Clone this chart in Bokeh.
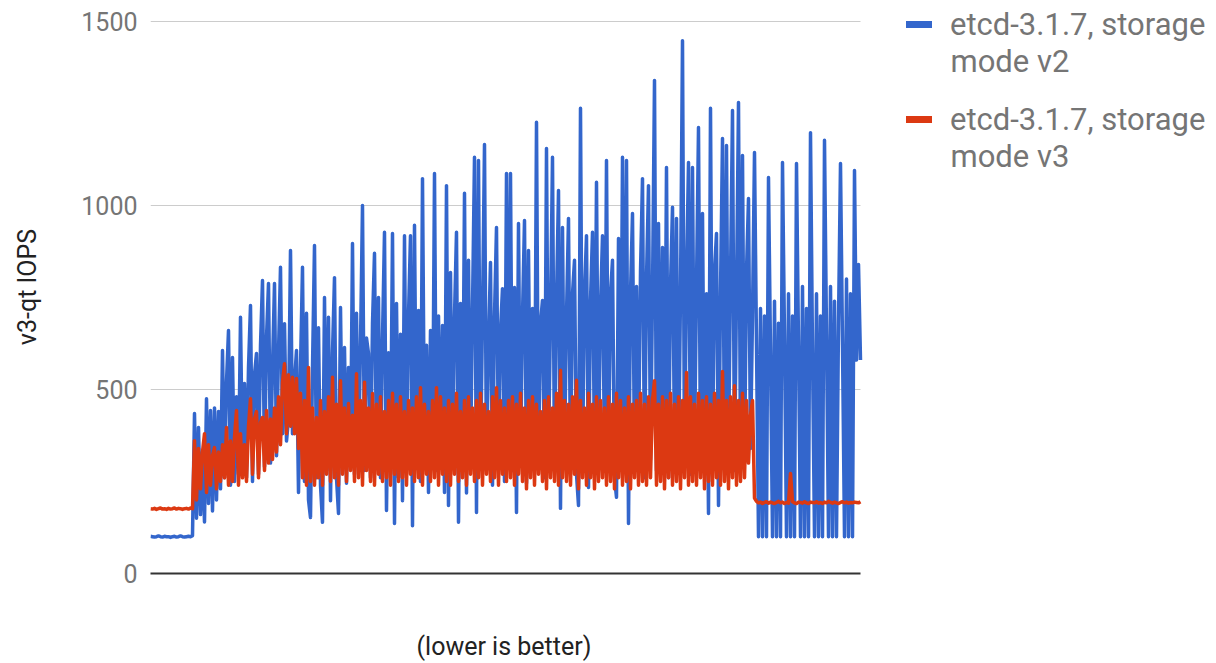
from bokeh.plotting import figure
from bokeh.models import (Range1d, FixedTicker, Legend, LegendItem, Label, Title,
                          CustomJSTickFormatter)
from bokeh.embed import file_html
from bokeh.resources import INLINE

# ---------------- data ----------------
series_names = ["etcd-3.1.7, storage mode v2", "etcd-3.1.7, storage mode v3"]
legend_line1 = ["etcd-3.1.7, storage", "etcd-3.1.7, storage"]
legend_line2 = ["mode v2", "mode v3"]
y_ticks = [0, 500, 1000, 1500]
y_title = "v3-qt IOPS"
x_title = "(lower is better)"

# storage mode v2 (blue)
blue_flat = [101, 100, 99, 100, 102, 100, 99, 101, 100, 100, 98, 100, 101, 99, 100, 102,
             100, 99, 100, 101, 100, 103]
blue_ramp = [435, 150, 397, 160, 330, 140, 475, 190, 443, 170,
             450, 200, 440, 230, 606, 260, 520, 660, 240, 587,
             250, 480, 270, 696, 280, 516, 260, 560, 728, 250,
             540, 598, 270, 620, 796, 290, 640, 788, 300, 560,
             788, 320, 600, 832, 380, 679, 360, 420]
blue_main = [878, 380, 520, 606, 220, 560, 832, 250, 707, 200,
             152, 560, 891, 260, 668, 240, 139, 750, 280, 696,
             198, 600, 804, 260, 163, 723, 300, 614, 245, 560,
             300, 897, 270, 707, 320, 620, 1000, 280, 640, 598,
             260, 680, 870, 300, 750, 260, 640, 927, 171, 600,
             300, 924, 136, 734, 260, 650, 198, 918, 280, 700,
             918, 130, 946, 300, 715, 250, 1073, 330, 620, 220,
             660, 300, 1087, 280, 700, 320, 674, 220, 1054, 185,
             818, 300, 700, 927, 139, 734, 300, 1033, 219, 851,
             310, 720, 1131, 166, 1122, 300, 700, 1166, 280, 620,
             845, 240, 700, 940, 300, 660, 774, 250, 1087, 320,
             1087, 280, 777, 166, 951, 300, 700, 959, 245, 878,
             320, 720, 280, 1226, 300, 680, 742, 260, 1155, 330,
             700, 1131, 280, 740, 1041, 177, 940, 320, 700, 965,
             290, 760, 851, 270, 185, 1264, 300, 760, 918, 234,
             740, 927, 300, 1063, 330, 720, 918, 280, 1122, 310,
             760, 851, 260, 207, 910, 300, 1131, 280, 1122, 136,
             760, 978, 300, 780, 330, 820, 1073, 260, 800, 1054,
             310, 760, 1340, 280, 951, 330, 886, 300, 1103, 260,
             780, 995, 320, 965, 290, 760, 1448, 300, 800, 1117,
             270, 1103, 340, 780, 1212, 300, 978, 280, 760, 163,
             1264, 320, 820, 924, 185, 760, 1182, 300, 1163, 330,
             800, 1258, 280, 760, 1280, 320, 1136, 300, 820, 1019,
             340, 700]
blue_tail = [1144, 620, 100, 720, 100, 700, 100, 1076, 600, 100,
             740, 100, 680, 100, 1117, 640, 100, 760, 100, 700,
             100, 1114, 620, 100, 780, 100, 720, 100, 1198, 600,
             100, 760, 100, 700, 100, 1177, 650, 100, 780, 100,
             740, 100, 680, 1114, 620, 100, 800, 100, 760, 100,
             1095, 580, 840, 580]

# storage mode v3 (red)
red_flat = [176, 175, 177, 174, 176, 178, 175, 176, 174, 177, 175, 176, 178, 175, 177,
            176, 174, 176, 177, 175, 178, 176]
red_ramp = [361, 200, 340, 230, 330, 380, 220, 350, 240, 320,
            342, 230, 330, 250, 350, 260, 397, 240, 360, 250,
            370, 443, 240, 380, 260, 350, 250, 400, 475, 270,
            420, 440, 260, 410, 424, 280, 443, 300, 420, 310,
            450, 330, 480, 350, 520, 570, 380, 540]
red_main = [400, 533, 380, 530, 340, 490, 260, 470, 240, 560,
            250, 450, 240, 424, 260, 470, 240, 440, 270, 480,
            250, 533, 260, 460, 240, 524, 270, 450, 250, 462,
            280, 430, 250, 543, 260, 470, 240, 520, 280, 450,
            250, 489, 240, 460, 270, 480, 250, 440, 260, 470,
            240, 490, 270, 460, 250, 480, 260, 440, 240, 470,
            270, 450, 250, 480, 260, 505, 240, 460, 270, 440,
            250, 470, 260, 505, 240, 480, 270, 450, 250, 470,
            240, 460, 270, 490, 250, 440, 260, 470, 240, 480,
            270, 450, 250, 470, 260, 490, 240, 460, 270, 440,
            250, 480, 260, 505, 240, 470, 270, 450, 250, 470,
            260, 480, 240, 460, 270, 490, 250, 450, 230, 470,
            260, 480, 240, 460, 270, 440, 250, 470, 230, 480,
            260, 450, 250, 490, 240, 552, 260, 470, 250, 460,
            240, 480, 270, 525, 230, 470, 260, 450, 240, 490,
            260, 460, 230, 480, 250, 470, 260, 450, 240, 480,
            250, 460, 230, 490, 260, 470, 240, 450, 250, 480,
            230, 460, 260, 470, 240, 490, 250, 460, 240, 480,
            260, 470, 524, 240, 460, 250, 480, 230, 470, 260,
            490, 240, 460, 250, 480, 230, 470, 260, 546, 240,
            480, 250, 460, 240, 490, 260, 470, 230, 480, 250,
            460, 240, 490, 260, 470, 240, 549, 250, 470, 230,
            480, 260, 510, 240, 470, 250, 490, 260, 470, 300,
            430, 470]
red_tail = [205, 196, 192, 194, 190, 193, 195, 191, 194, 192,
            190, 193, 196, 192, 194, 190, 193, 191, 272, 195,
            192, 190, 194, 193, 191, 195, 192, 190, 194, 193,
            192, 195, 191, 193, 190, 194, 192, 196, 193, 191,
            194, 192, 190, 193, 195, 192, 194, 191, 193, 192,
            194, 193, 192, 195]

blue = blue_flat + blue_ramp + blue_main + blue_tail
red = red_flat + red_ramp + red_main + red_tail
xb = list(range(len(blue)))
xr = list(range(len(red)))
x_last = max(len(blue), len(red)) - 1

# ---------------- styling ----------------
BLUE = "#3366CC"
RED = "#DC3912"
FONT = "Roboto"
TICK_COL = "#757575"
TITLE_COL = "#222222"

W, H = 1208, 663
LEFT, BOTTOM = 150, 90            # frame: x 150..1208, y 0..573
PX_PER_X = 2.0                    # 356 samples over 710 px
PX_PER_Y = 552.0 / 1500.0
frame_w = W - LEFT
frame_h = H - BOTTOM

p = figure(width=W, height=H, output_backend="svg", toolbar_location=None,
           x_range=Range1d(0, frame_w / PX_PER_X),
           y_range=Range1d(0, frame_h / PX_PER_Y),
           min_border_left=LEFT, min_border_right=0, min_border_top=0,
           min_border_bottom=BOTTOM)
p.outline_line_color = None
p.background_fill_color = "white"
p.border_fill_color = "white"
p.xgrid.grid_line_color = None
p.ygrid.grid_line_color = None

# horizontal gridlines limited to the data extent
grid_vals = [t for t in y_ticks if t > 0]
p.segment(x0=[0] * len(grid_vals), x1=[x_last] * len(grid_vals),
          y0=grid_vals, y1=grid_vals, line_color="#cccccc", line_width=1)

p.line(xb, blue, line_color=BLUE, line_width=3.5, line_join="round")
p.line(xr, red, line_color=RED, line_width=3.5, line_join="round")

yax = p.yaxis[0]
yax.ticker = FixedTicker(ticks=y_ticks)
yax.axis_line_color = None
yax.major_tick_line_color = None
yax.minor_tick_line_color = None
yax.major_tick_out = 0
yax.major_tick_in = 0
yax.minor_tick_out = 0
yax.major_label_standoff = 13
yax.major_label_text_font = FONT
yax.major_label_text_font_size = "25px"
yax.major_label_text_color = TICK_COL
yax.axis_label = y_title
yax.axis_label_text_font = FONT
yax.axis_label_text_font_size = "25px"
yax.axis_label_text_font_style = "normal"
yax.axis_label_text_color = TITLE_COL
yax.axis_label_standoff = 36

xax = p.xaxis[0]
# one unlabeled, white (invisible) tick at the end of the data: it only reserves
# the empty band between the baseline and the x title
xax.ticker = FixedTicker(ticks=[x_last])
xax.formatter = CustomJSTickFormatter(code="return ''")
xax.bounds = (0, x_last)
xax.axis_line_color = "#333333"
xax.axis_line_width = 2
xax.major_tick_line_color = "white"
xax.major_tick_line_alpha = 0.0
xax.minor_tick_line_color = None
xax.major_tick_out = 53
xax.major_tick_in = 0
xax.minor_tick_out = 0
xax.major_label_standoff = 0
xax.major_label_text_font_size = "1px"

# x title as a Title so that it can be centred on the data area
xt = Title(text=x_title, align="left", offset=266, standoff=6,
           text_font=FONT, text_font_size="25px",
           text_font_style="normal", text_color=TITLE_COL)
p.add_layout(xt, "below")

# legend (marker + first line through Legend, second line as Label)
nan = float("nan")
lb = p.line([nan], [nan], line_color=BLUE, line_width=7, line_cap="round")
lr = p.line([nan], [nan], line_color=RED, line_width=7, line_cap="round")
for rend, l1, l2, vy, ly in [(lb, legend_line1[0], legend_line2[0], 529, 512),
                             (lr, legend_line1[1], legend_line2[1], 434, 417)]:
    leg = Legend(items=[LegendItem(label=l1, renderers=[rend])], location=(756, vy),
                 padding=0, margin=0, spacing=0, border_line_color=None,
                 background_fill_alpha=0, glyph_width=26, glyph_height=40,
                 label_height=40, label_standoff=18,
                 label_text_font=FONT, label_text_font_size="31px",
                 label_text_color=TICK_COL, label_text_baseline="middle")
    p.add_layout(leg)
    p.add_layout(Label(x=800, y=ly, x_units="screen", y_units="screen", text=l2,
                       text_font=FONT, text_font_size="31px", text_color=TICK_COL,
                       text_baseline="middle", text_align="left"))

open("out.html", "w").write(file_html(p, INLINE))
